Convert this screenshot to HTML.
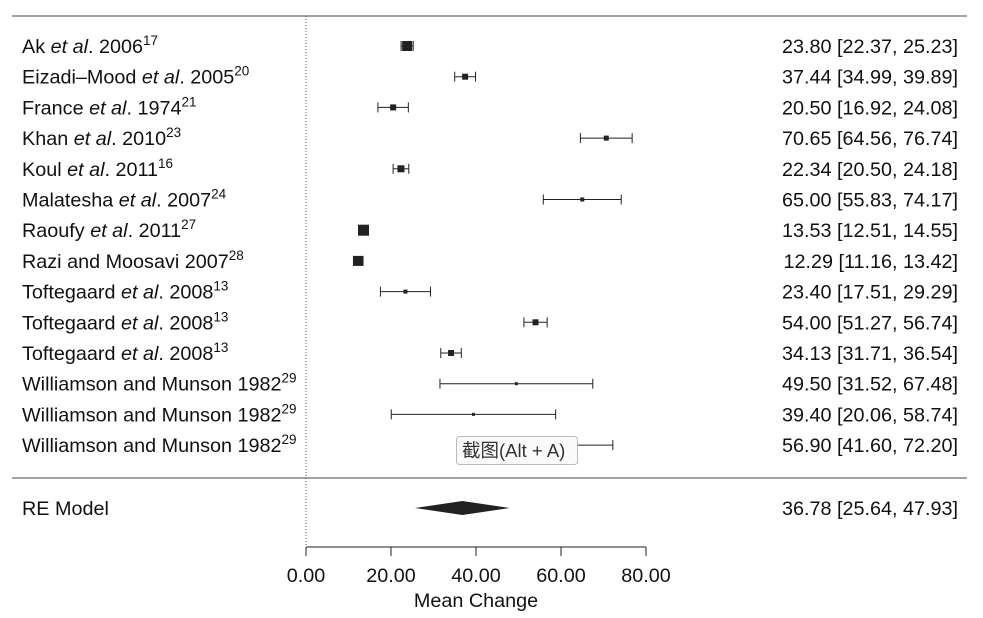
<!DOCTYPE html>
<html><head><meta charset="utf-8"><style>
body{margin:0;background:#fff;}
svg{display:block;font-family:"Liberation Sans","Noto Sans CJK SC",sans-serif;}
</style></head><body>
<svg id="c" width="983" height="618" viewBox="0 0 983 618">
<line x1="12" y1="16" x2="967" y2="16" stroke="#444" stroke-width="1"/>
<line x1="12" y1="478" x2="967" y2="478" stroke="#444" stroke-width="1"/>
<line x1="306" y1="16" x2="306" y2="547" stroke="#555" stroke-dasharray="1,2"/>
<g id="rows"></g>
<g id="axis"></g>
<g>
<rect x="456.5" y="436.5" width="121" height="28" rx="3" fill="#fafafa" stroke="#bbb"/>
<text x="462" y="457" font-size="18.5" fill="#333">截图(Alt + A)</text>
</g>
</svg>
<script>
const studies=["Ak","Eizadi–Mood","France","Khan","Koul","Malatesha","Raoufy","Razi and Moosavi","Toftegaard","Toftegaard","Toftegaard","Williamson and Munson","Williamson and Munson","Williamson and Munson"];
const etal=[true,true,true,true,true,true,true,false,true,true,true,false,false,false];
const years=["2006","2005","1974","2010","2011","2007","2011","2007","2008","2008","2008","1982","1982","1982"];
const refs=["17","20","21","23","16","24","27","28","13","13","13","29","29","29"];
const means=[23.80,37.44,20.50,70.65,22.34,65.00,13.53,12.29,23.40,54.00,34.13,49.50,39.40,56.90];
const lower=[22.37,34.99,16.92,64.56,20.50,55.83,12.51,11.16,17.51,51.27,31.71,31.52,20.06,41.60];
const upper=[25.23,39.89,24.08,76.74,24.18,74.17,14.55,13.42,29.29,56.74,36.54,67.48,58.74,72.20];
const weights=[10,6,6,5,7,4,11,10,4,6,6,3,3,3];
const reModel=[36.78,25.64,47.93];
const ticks=[0,20,40,60,80];
const NS="http://www.w3.org/2000/svg";
const FS=19.8;
const xs=v=>306+v*(340/80);
const ys=i=>46+i*30.7;
function mk(t,a,p){const e=document.createElementNS(NS,t);for(const k in a)e.setAttribute(k,a[k]);p.appendChild(e);return e;}
const rows=document.getElementById('rows');
studies.forEach((s,i)=>{
  const y=ys(i);
  const g=mk('g',{},rows);
  
  
  const t=mk('text',{x:22,y:y+7,'font-size':FS,fill:'#111'},g);
  
  
  t.appendChild(document.createTextNode(s+' '));
  if(etal[i]){const it=mk('tspan',{'font-style':'italic'},t);it.textContent='et al';t.appendChild(document.createTextNode('. '));}
  t.appendChild(document.createTextNode(years[i]));
  const sp=mk('tspan',{'font-size':13.5,dy:-8},t);sp.textContent=refs[i];
  const l=mk('line',{x1:xs(lower[i]),x2:xs(upper[i]),y1:y,y2:y,stroke:'#222','stroke-width':1},g);
  
  
  [lower[i],upper[i]].forEach(v=>{const c=mk('line',{x1:xs(v),x2:xs(v),y1:y-5,y2:y+5,stroke:'#222'},g);
    
    });
  const w=weights[i];
  const r=mk('rect',{x:xs(means[i])-w/2,y:y-w/2,width:w,height:w,fill:'#222'},g);
  
  
  const v=mk('text',{x:958,y:y+7,'font-size':FS,fill:'#111','text-anchor':'end'},g);
  
  
  v.textContent=means[i].toFixed(2)+' ['+lower[i].toFixed(2)+', '+upper[i].toFixed(2)+']';
});
const ry=508;
const rl=mk('text',{x:22,y:ry+7,'font-size':FS,fill:'#111'},rows);


rl.textContent='RE Model';
const d=mk('polygon',{points:`${xs(reModel[1])},${ry} ${xs(reModel[0])},${ry-7} ${xs(reModel[2])},${ry} ${xs(reModel[0])},${ry+7}`,fill:'#222'},rows);


const rv=mk('text',{x:958,y:ry+7,'font-size':FS,fill:'#111','text-anchor':'end'},rows);


rv.textContent=reModel[0].toFixed(2)+' ['+reModel[1].toFixed(2)+', '+reModel[2].toFixed(2)+']';
const ax=document.getElementById('axis');


mk('line',{x1:xs(ticks[0]),x2:xs(ticks[ticks.length-1]),y1:547,y2:547,stroke:'#222'},ax);
ticks.forEach(t=>{
  const tl=mk('line',{x1:xs(t),x2:xs(t),y1:547,y2:556,stroke:'#222'},ax);
  
  
  const tx=mk('text',{x:xs(t),y:582,'font-size':FS,fill:'#111','text-anchor':'middle'},ax);
  
  
  tx.textContent=t.toFixed(2);
});
const at=mk('text',{x:476,y:607,'font-size':FS,fill:'#111','text-anchor':'middle'},ax);


at.textContent='Mean Change';
</script>
</body></html>
